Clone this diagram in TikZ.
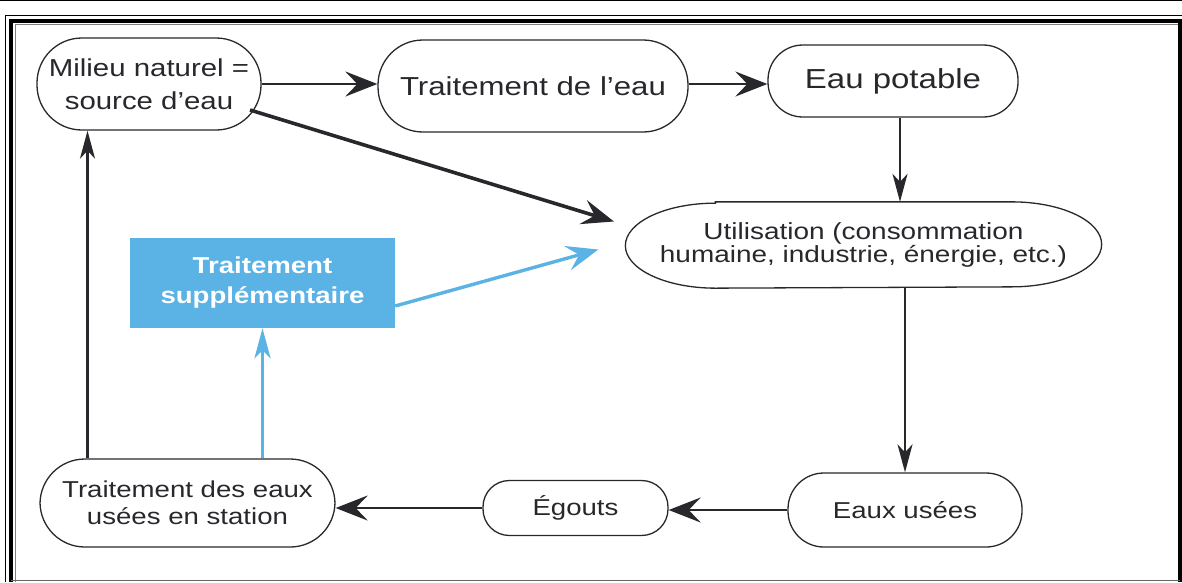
\documentclass[tikz,border=0pt]{standalone}
\usepackage{fontspec}
\setmainfont{Liberation Sans}[FakeStretch=1.2]
\usepackage{tikz}
\usetikzlibrary{arrows.meta}
\definecolor{skyblue}{RGB}{91,178,228}
\definecolor{inkgray}{RGB}{40,40,44}
\tikzstyle{term} = [rectangle,
inner sep=0pt,
draw=inkgray,
line width=1.3pt,
text=inkgray,
align=center,
font=\fontsize{23}{27}\selectfont]
\tikzstyle{extra} = [rectangle,
inner sep=0pt,
fill=skyblue,
text=white,
align=center,
minimum width=265,
minimum height=90,
font=\bfseries\fontsize{23}{30}\selectfont]
\tikzstyle{arrow} = [line width=2.8pt, draw=inkgray,
-{Stealth[length=32pt, width=25pt, inset=12pt]}]
\tikzstyle{downarrow} = [line width=2.3pt, draw=inkgray,
-{Stealth[length=28pt, width=15pt, inset=8pt]}]
\tikzstyle{bluearrow} = [line width=3.4pt, draw=skyblue,
-{Stealth[length=32pt, width=25pt, inset=12pt]}]

\begin{document}
\begin{tikzpicture}[x=1pt, y=-1pt]
\useasboundingbox (0,0) rectangle (1182,582);
% frame
\draw [line width=1pt] (0,0.5) -- (1182,0.5);
\draw [line width=1pt] (5,582) -- (5,15) -- (1182,15);
\draw [line width=4pt] (11,582) -- (11,20.5) -- (1180,20.5) -- (1180,582);
\draw [line width=1pt, black!50] (15,582) -- (15,24) -- (1178,24);
\draw [line width=1.5pt, black!60] (11,580.5) -- (1180,580.5);

% nodes
\node (milieu) [term, rounded corners=44.9pt, minimum width=224, minimum height=92, font=\fontsize{24.5}{33}\selectfont] at (149,84) {Milieu naturel =\\source d'eau};
\node (trait) [term, rounded corners=44.9pt, minimum width=310, minimum height=92, font=\fontsize{26}{30}\selectfont] at (533,86) {Traitement de l'eau};
\node (potable) [term, rounded corners=34.9pt, minimum width=250, minimum height=72, font=\fontsize{27.5}{30}\selectfont] at (893,81) {Eau potable};
\node (util) [term, draw=none, minimum width=475, minimum height=85, font=\fontsize{23.3}{23.5}\selectfont] at (863.5,245) {Utilisation (consommation\\humaine, industrie, énergie, etc.)};
\node (supp) [extra] at (262.5,283) {Traitement\\supplémentaire};
\node (eaux) [term, rounded corners=35.9pt, minimum width=234, minimum height=74] at (905,510) {Eaux usées};
\node (egouts) [term, rounded corners=26.4pt, minimum width=185, minimum height=55] at (575.5,508) {Égouts};
\node (station) [term, rounded corners=44.9pt, minimum width=295, minimum height=88] at (187.5,503) {Traitement des eaux\\usées en station};

% flatter ends for the big one
\draw [line width=1.3pt, draw=inkgray] ([xshift=90pt]util.north west) -- ([xshift=-90pt]util.north east)
  arc [start angle=90, end angle=-90, x radius=90pt, y radius=42.5pt]
  -- ([xshift=90pt]util.south west)
  arc [start angle=270, end angle=90, x radius=90pt, y radius=42.5pt] -- cycle;

% connectors
\draw [arrow] (milieu.east) -- (milieu.east -| trait.west);
\draw [arrow] (trait.east |- milieu.east) -- (trait.east |- milieu.east -| potable.west);
\draw [downarrow] ([xshift=7pt]potable.south) -- ([xshift=7pt]potable.south |- util.north);
\draw [arrow, line width=3.6pt, shorten >=12pt] ([xshift=101pt, yshift=-26pt]milieu.center) -- ([yshift=20pt]util.west);
\draw [bluearrow, shorten >=28pt] ([yshift=-23pt]supp.east) -- ([yshift=3pt]util.west);
\draw [downarrow] (eaux.north |- util.south) -- (eaux.north);
\draw [arrow] (eaux.west) -- (eaux.west -| egouts.east);
\draw [arrow] (egouts.west) -- (egouts.west -| station.east);
\draw [downarrow, line width=2.8pt] ([xshift=-100pt]station.north) -- ([xshift=-100pt]station.north |- milieu.south);
\draw [bluearrow, -{Stealth[length=30pt, width=16pt, inset=8pt]}] (supp.south |- station.north) -- (supp.south);
\end{tikzpicture}
\end{document}
